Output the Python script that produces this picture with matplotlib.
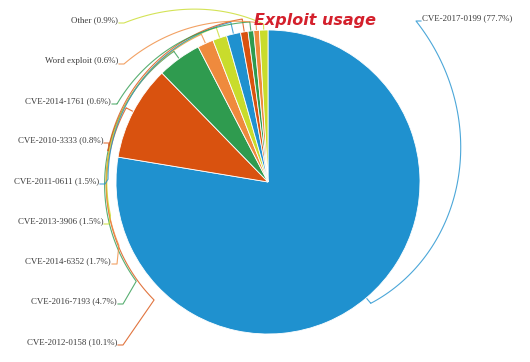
#!/usr/bin/env python

"""
Exploit usage pie chart with curved leader lines
"""

import numpy as np
import matplotlib.pyplot as plt

# data
labels = ["CVE-2017-0199", "CVE-2012-0158", "CVE-2016-7193", "CVE-2014-6352",
          "CVE-2013-3906", "CVE-2011-0611", "CVE-2010-3333", "CVE-2014-1761",
          "Word exploit", "Other"]
shares = [77.7, 10.1, 4.7, 1.7, 1.5, 1.5, 0.8, 0.6, 0.6, 0.9]

palette = ["#1f91cf", "#d9520f", "#2f9b4f", "#ef8a3d", "#c9dc2c"]
colors = [palette[i % len(palette)] for i in range(len(shares))]

# layout (pixels of the 530x362 picture)
CX, CY, RAD = 268, 182, 152
# label anchor: end of the tick next to the text
anchors = [(421, 21), (118, 345), (118, 304), (112, 264), (104, 224),
           (100, 184), (104, 143), (112, 104), (119, 64), (119, 23)]
# hook offset from pie and optional break point (deg clockwise from top, radius px)
hooks = [7, 8, 9, 10, 11, 12, 13, 9, 8, 6]
breaks = [None, (224, 164), (233, 165), (247, 162), (258, 161),
          (271, 160), (281, 163), None, None, None]


def to_data(x, y):
    return (x - CX) / RAD, (CY - y) / RAD


def polar(theta_cw, r):
    a = np.radians(90 - theta_cw)
    return r * np.cos(a) / RAD, r * np.sin(a) / RAD


def to_polar(x, y):
    dx, dy = x - CX, y - CY
    th = np.degrees(np.arctan2(dx, -dy)) % 360
    return th, np.hypot(dx, dy)


fig = plt.figure(figsize=(5.3, 3.62), dpi=100)
ax = fig.add_axes([0, 0, 1, 1])

wedges, _ = ax.pie(shares, colors=colors, startangle=90, counterclock=False,
                   radius=1, wedgeprops=dict(edgecolor="white", linewidth=0.6))

ax.set_xlim(to_data(0, 0)[0], to_data(530, 0)[0])
ax.set_ylim(to_data(0, 362)[1], to_data(0, 0)[1])
ax.set_aspect("auto")
ax.axis("off")

for i, w in enumerate(wedges):
    mid = (w.theta1 + w.theta2) / 2.0
    th_s = (90 - mid) % 360
    ax_, ay_ = anchors[i]
    side = 1 if i == 0 else -1
    tick_start = (ax_ - 5 * side, ay_)

    pts = [polar(th_s, RAD + 1), polar(th_s, RAD + hooks[i])]
    if breaks[i] is None:
        th_e, r_e = to_polar(*tick_start)
    else:
        th_e, r_e = breaks[i]
    ths = np.linspace(th_s, th_e, 80)
    rs = np.linspace(RAD + hooks[i], r_e, 80)
    pts += [polar(t, r) for t, r in zip(ths, rs)]
    pts.append(to_data(*tick_start))
    pts.append(to_data(ax_, ay_))
    xs, ys = zip(*pts)
    ax.plot(xs, ys, color=colors[i], lw=0.8, alpha=0.8, solid_joinstyle="round")

    tx, ty = to_data(ax_ + 1 * side, ay_ - 3)
    ax.text(tx, ty, "%s (%.1f%%)" % (labels[i], shares[i]),
            ha="left" if side > 0 else "right", va="center",
            fontsize=6.4, family="Liberation Serif", color="#3a3a3a")

tx, ty = to_data(315, 20)
ax.text(tx, ty, "Exploit usage", ha="center", va="center", fontsize=11.5,
        fontweight="bold", fontstyle="italic", color="#d4202c",
        family="DejaVu Sans")

fig.savefig("out.png", dpi=100)
